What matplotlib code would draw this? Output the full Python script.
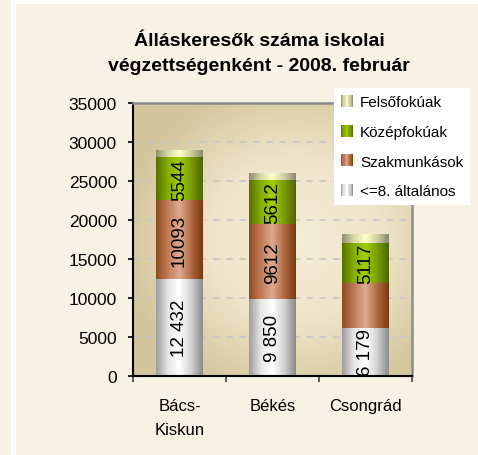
"""Stacked bar chart: job seekers by education level, 2008 February."""

import matplotlib

matplotlib.use("Agg")

import matplotlib.pyplot as plt
import numpy as np
from matplotlib.colors import LinearSegmentedColormap
from matplotlib.legend_handler import HandlerBase
from matplotlib.patches import Patch, Rectangle

plt.rcParams["font.family"] = ["Liberation Sans", "DejaVu Sans"]

counties = ["Bács-\nKiskun", "Békés", "Csongrád"]
series_names = ["<=8. általános", "Szakmunkások", "Középfokúak", "Felsőfokúak"]
elementary = [12432, 9850, 6179]
skilled = [10093, 9612, 5800]
secondary = [5544, 5612, 5117]
higher = [800, 850, 1150]
elementary_labels = ["12 432", "9 850", "6 179"]
skilled_labels = ["10093", "9612", ""]
secondary_labels = ["5544", "5612", "5117"]
higher_labels = ["", "", ""]

BG = "#F8F1E4"

GRADIENTS = {
    "<=8. általános": ["#9c9c9c", "#e6e6e6", "#ffffff", "#d2d2d2", "#8a8a8a"],
    "Szakmunkások": ["#8e4a1e", "#c07a55", "#dcaa92", "#b06a40", "#7a3810"],
    "Középfokúak": ["#566f00", "#86ad00", "#9fd000", "#7a9c00", "#4f6600"],
    "Felsőfokúak": ["#8c8c70", "#d8d8a8", "#ffffc8", "#cfcfa0", "#88886c"],
}


def make_cmap(name):
    return LinearSegmentedColormap.from_list(name, GRADIENTS[name])


class GradientHandler(HandlerBase):
    def __init__(self, cmap):
        super().__init__()
        self.cmap = cmap

    def create_artists(self, legend, orig_handle, xdescent, ydescent,
                       width, height, fontsize, trans):
        n = 10
        side = min(width, height)
        x0 = -xdescent
        y0 = -ydescent + (height - side) / 2
        out = []
        for i in range(n):
            r = Rectangle((x0 + i * side / n, y0), side / n + 0.05, side,
                          facecolor=self.cmap((i + 0.5) / n), edgecolor="none",
                          transform=trans)
            out.append(r)
        return out


def main():
    fig = plt.figure(figsize=(4.78, 4.56), dpi=100, facecolor=BG)
    # white frame strips
    fig.patches.append(Rectangle((11 / 478, 0), 5 / 478, 1, transform=fig.transFigure,
                                 facecolor="white", edgecolor="none", zorder=0))
    fig.patches.append(Rectangle((16 / 478, 1 - 5 / 456), 1, 5 / 456, transform=fig.transFigure,
                                 facecolor="white", edgecolor="none", zorder=0))

    ax = fig.add_axes([133 / 478, 1 - 377 / 456, 279 / 478, 273 / 456])
    ax.set_facecolor("#e8dcbf")

    # plot area radial gradient
    gx, gy = np.meshgrid(np.linspace(0, 1, 200), np.linspace(0, 1, 200))
    rr = np.sqrt(((gx - 0.58) / 0.62) ** 2 + ((gy - 0.5) / 0.6) ** 2)
    rr = np.clip(rr, 0, 1)
    bg_cmap = LinearSegmentedColormap.from_list("bg", ["#f6edd6", "#efe4c9", "#d3c59c"])
    ax.imshow(rr, extent=(0, 1, 0, 1), transform=ax.transAxes, cmap=bg_cmap,
              origin="lower", aspect="auto", zorder=0, interpolation="bilinear")

    x = np.arange(len(counties))
    series = [elementary, skilled, secondary, higher]
    labels = [elementary_labels, skilled_labels, secondary_labels, higher_labels]
    bottom = np.zeros(len(counties))
    grad = np.linspace(0, 1, 256).reshape(1, -1)
    for name, vals, labs in zip(series_names, series, labels):
        bars = ax.bar(x, vals, width=0.5, bottom=bottom, color="none",
                      edgecolor="none", zorder=2)
        cmap = make_cmap(name)
        for bar, lab in zip(bars, labs):
            x0, y0 = bar.get_x(), bar.get_y()
            ax.imshow(grad, extent=(x0, x0 + bar.get_width(), y0, y0 + bar.get_height()),
                      cmap=cmap, aspect="auto", zorder=2, interpolation="bilinear")
            if lab:
                ax.text(bar.get_x() + bar.get_width() / 2, y0 + bar.get_height() / 2, lab,
                        rotation=90, ha="center", va="center", fontsize=13.5,
                        color="black", zorder=3, clip_on=True)
        bottom += np.array(vals)

    ax.set_xlim(-0.5, len(counties) - 0.5)
    ax.set_ylim(0, 35000)
    ax.set_yticks(np.arange(0, 35001, 5000))
    ax.yaxis.grid(True, color="#c8c8c8", linestyle=(0, (4, 4)), linewidth=1.2, zorder=1)
    ax.set_axisbelow(True)

    ax.set_xticks(x)
    ax.set_xticklabels(counties, fontsize=12, linespacing=1.75)
    ax.set_xticks(np.arange(len(counties) + 1) - 0.5, minor=True)
    ax.tick_params(axis="x", which="major", length=0, pad=16)
    ax.tick_params(axis="x", which="minor", length=4.5, width=1.2, color="#404040")
    ax.tick_params(axis="y", length=3.6, width=1.2, pad=8, labelsize=12.5)

    for side in ("left", "bottom"):
        ax.spines[side].set_color("black")
        ax.spines[side].set_linewidth(1.5)
    for side in ("top", "right"):
        ax.spines[side].set_color("#8c8c8c")
        ax.spines[side].set_linewidth(1.8)

    fig.text(259 / 478, 1 - 54 / 456,
             "Álláskeresők száma iskolai\nvégzettségenként - 2008. február",
             ha="center", va="center", fontsize=14, fontweight="bold",
             linespacing=1.6)

    handles = []
    hmap = {}
    for name in reversed(series_names):
        h = Patch(facecolor=GRADIENTS[name][2], label=name)
        handles.append(h)
        hmap[h] = GradientHandler(make_cmap(name))
    leg = fig.legend(handles=handles, handler_map=hmap, loc="upper left",
                     bbox_to_anchor=(334 / 478, 1 - 89 / 456), borderaxespad=0,
                     fontsize=11, frameon=True, fancybox=False, framealpha=1,
                     facecolor="white", edgecolor="white", handlelength=0.85,
                     handleheight=0.85, handletextpad=0.4, labelspacing=1.0,
                     borderpad=0.45)
    leg.get_frame().set_linewidth(0)

    fig.savefig("out.png", dpi=100, facecolor=BG)
    plt.close(fig)


if __name__ == "__main__":
    main()
